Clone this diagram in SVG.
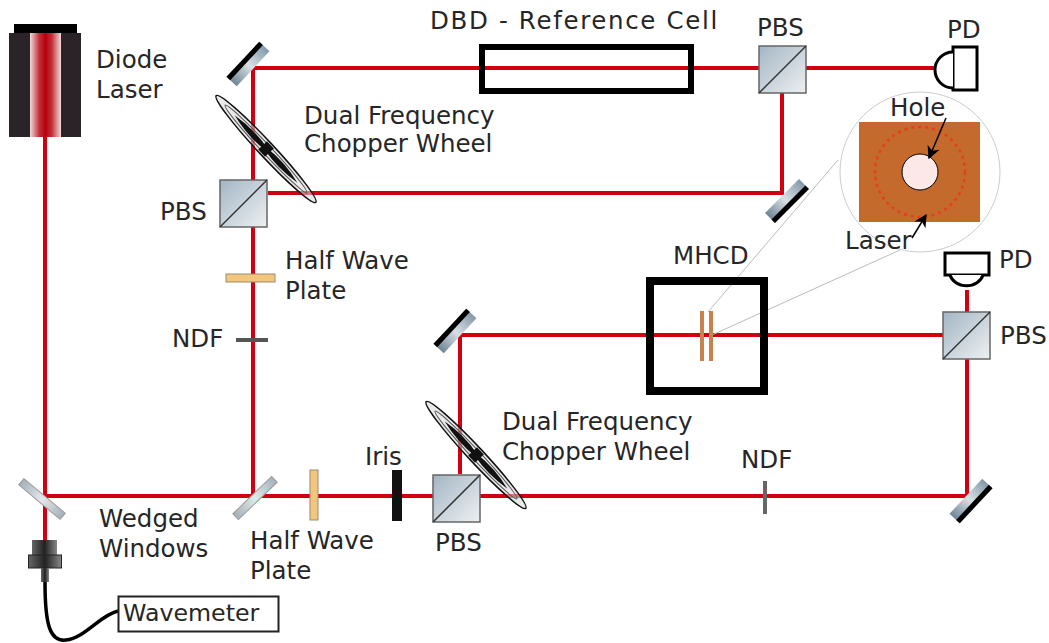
<svg xmlns="http://www.w3.org/2000/svg" width="1049" height="643" viewBox="0 0 1049 643">
<style>
text{font-family:"DejaVu Sans",Verdana,sans-serif;font-size:24.500px;fill:#262626}
.beam{fill:none;stroke:#d2000f;stroke-width:4}
.pbs{fill:url(#glass);stroke:#666;stroke-width:1.500}
.diag{stroke:#333;stroke-width:1.500}
.blk{fill:none;stroke:#000}
</style>
<defs>
<linearGradient id="glass" x1="0" y1="0" x2="1" y2="1"><stop offset="0" stop-color="#a3b6c4"/><stop offset="1" stop-color="#eef0f2"/></linearGradient>
<linearGradient id="mir" x1="0" y1="0" x2="1" y2="0"><stop offset="0" stop-color="#6f8596"/><stop offset=".5" stop-color="#d8e0e4"/><stop offset="1" stop-color="#8299aa"/></linearGradient>
<linearGradient id="wed" x1="0" y1="0" x2="1" y2="0"><stop offset="0" stop-color="#a4b0b8"/><stop offset=".5" stop-color="#e4e8ea"/><stop offset="1" stop-color="#a4b0b8"/></linearGradient>
<linearGradient id="core" x1="0" y1="0" x2="1" y2="0"><stop offset="0" stop-color="#f0dcdc"/><stop offset=".3" stop-color="#c23038"/><stop offset=".5" stop-color="#b8000c"/><stop offset=".7" stop-color="#c23038"/><stop offset="1" stop-color="#f0dcdc"/></linearGradient>
<linearGradient id="conn" x1="0" y1="0" x2="1" y2="0"><stop offset="0" stop-color="#666"/><stop offset=".5" stop-color="#222"/><stop offset="1" stop-color="#888"/></linearGradient>
<marker id="ah" viewBox="0 0 10 10" refX="9" refY="5" markerWidth="15" markerHeight="13" markerUnits="userSpaceOnUse" orient="auto"><path d="M0 0L10 5L0 10L3 5z" fill="#000"/></marker>
<g id="chop">
<ellipse rx="73" ry="7.500" fill="#d8d8d8" fill-opacity=".55" stroke="#111" stroke-width="1.500"/>
<ellipse rx="60" ry="4.500" fill="none" stroke="#555" stroke-width="1"/>
<path d="M-46 0Q-22 -5 0 -1.500Q22 -5 46 0Q22 5 0 1.500Q-22 5 -46 0z" fill="#111"/>
<rect x="-5" y="-6" width="10" height="12" fill="#111"/>
</g>
<g id="cube"><rect class="pbs" width="47" height="47"/><line class="diag" x1="0" y1="47" x2="47" y2="0"/></g>
</defs>

<g id="connectors">
<path class="beam" d="M45 137V540"/>
<path class="beam" d="M45 496H967V358"/>
<path class="beam" d="M967 312V290"/>
<path class="beam" d="M253 496V68H940"/>
<path class="beam" d="M268 193H782V93"/>
<path class="beam" d="M460 474V335H944"/>
<path d="M45 582C45 625 50 642 66 640C85 638 100 615 118 611" fill="none" stroke="#000" stroke-width="3.500"/>
<path d="M838 160L708 312M900 250L712 335" fill="none" stroke="#bbb" stroke-width="1"/>
</g>

<g id="diode-laser">
<rect x="14" y="24" width="63" height="10" fill="#000"/>
<rect x="9" y="33" width="72" height="104" fill="#2a2428"/>
<rect x="30" y="33" width="31" height="104" fill="url(#core)"/>
<text x="96" y="68">Diode</text><text x="96" y="98">Laser</text>
</g>

<g id="mirror-1" transform="translate(248 64) rotate(-47)"><rect x="-24" y="-7" width="48" height="14" fill="url(#mir)"/><rect x="-24" y="-7" width="48" height="5" fill="#000"/></g>
<g id="mirror-2" transform="translate(787 201) rotate(-45)"><rect x="-24" y="-7" width="48" height="14" fill="url(#mir)"/><rect x="-24" y="2" width="48" height="5" fill="#000"/></g>
<g id="mirror-3" transform="translate(455 331) rotate(-47)"><rect x="-24" y="-7" width="48" height="14" fill="url(#mir)"/><rect x="-24" y="-7" width="48" height="5" fill="#000"/></g>
<g id="mirror-4" transform="translate(971 501) rotate(-47)"><rect x="-24" y="-7" width="48" height="14" fill="url(#mir)"/><rect x="-24" y="2" width="48" height="5" fill="#000"/></g>

<g id="window-1"><rect x="-27" y="-4" width="54" height="8" fill="url(#wed)" stroke="#999" transform="translate(42 499) rotate(40)"/></g>
<g id="window-2"><rect x="-27" y="-4" width="54" height="8" fill="url(#wed)" stroke="#999" transform="translate(255 498) rotate(-44)"/></g>
<text id="wedged-label-1" x="99" y="527">Wedged</text><text id="wedged-label-2" x="99" y="557">Windows</text>

<g id="chopper-1"><use href="#chop" transform="translate(266 149) rotate(47)"/><text x="304" y="124">Dual Frequency</text><text x="304" y="152">Chopper Wheel</text></g>
<g id="chopper-2"><use href="#chop" transform="translate(476 455) rotate(47)"/><text x="502" y="430">Dual Frequency</text><text x="502" y="460">Chopper Wheel</text></g>

<g id="pbs-1"><use href="#cube" x="220" y="180"/><text x="160" y="220">PBS</text></g>
<g id="pbs-2"><use href="#cube" x="759" y="46"/><text x="757" y="36">PBS</text></g>
<g id="pbs-3"><use href="#cube" x="943" y="312"/><text x="1000" y="344">PBS</text></g>
<g id="pbs-4"><use href="#cube" x="433" y="475"/><text x="435" y="551">PBS</text></g>

<g id="hwp-1"><rect x="226" y="274" width="49" height="8" fill="#f3c67e" stroke="#9a8a70"/><text x="285" y="269">Half Wave</text><text x="285" y="299">Plate</text></g>
<g id="hwp-2"><rect x="310" y="470" width="8" height="50" fill="#f3c67e" stroke="#9a8a70"/><text x="250" y="549">Half Wave</text><text x="250" y="579">Plate</text></g>
<g id="ndf-1"><rect x="236" y="338" width="32" height="4" fill="#555"/><text x="172" y="347">NDF</text></g>
<g id="ndf-2"><rect x="763" y="481" width="4" height="33" fill="#666"/><text x="741" y="468">NDF</text></g>
<g id="iris"><rect x="392" y="470" width="10" height="51" fill="#111"/><text x="365" y="465">Iris</text></g>

<g id="dbd-cell"><rect class="blk" x="482" y="47" width="209" height="44" stroke-width="6"/><text x="430" y="29" letter-spacing="1.650">DBD - Reference Cell</text></g>

<g id="pd-1"><rect x="953" y="47" width="24" height="43" fill="#fff" stroke="#000" stroke-width="3"/><path d="M953 52A18 18 0 0 0 953 88" fill="#fff" stroke="#000" stroke-width="3"/><text x="947" y="38">PD</text></g>
<g id="pd-2"><rect x="945" y="253" width="44" height="22" fill="#fff" stroke="#000" stroke-width="3"/><path d="M950 275A17 14 0 0 0 983 275" fill="#fff" stroke="#000" stroke-width="3"/><text x="999" y="268">PD</text></g>

<g id="mhcd"><rect class="blk" x="650" y="281" width="114" height="110" stroke-width="8"/><rect x="700" y="311" width="4" height="50" fill="#c8834c"/><rect x="709" y="311" width="4" height="50" fill="#c8834c"/><text x="673" y="264">MHCD</text></g>

<g id="inset">
<circle cx="920" cy="172" r="80" fill="#fff" stroke="#ccc" stroke-width="1"/>
<rect x="859" y="122" width="121" height="100" fill="#c56a2d"/>
<circle cx="920" cy="172" r="45" fill="none" stroke="#e2401c" stroke-width="2.500" stroke-dasharray="3 4"/>
<circle cx="920" cy="172" r="18" fill="#fde8e8" stroke="#000" stroke-width="1"/>
<line x1="946" y1="118" x2="929" y2="158" stroke="#000" stroke-width="1.500" marker-end="url(#ah)"/>
<line x1="912" y1="238" x2="926" y2="215" stroke="#000" stroke-width="1.500" marker-end="url(#ah)"/>
<text x="890" y="116">Hole</text><text x="845" y="249">Laser</text>
</g>

<g id="fiber-coupler"><rect x="32" y="540" width="25" height="15" fill="url(#conn)"/><rect x="28.500" y="555" width="33" height="13" fill="url(#conn)" stroke="#222"/><rect x="41" y="568" width="8" height="14" fill="url(#conn)"/></g>
<g id="wavemeter"><rect x="118.500" y="596.500" width="160" height="35" fill="#fff" stroke="#222" stroke-width="2"/><text x="123" y="621" style="font-size:23.700px">Wavemeter</text></g>
</svg>
